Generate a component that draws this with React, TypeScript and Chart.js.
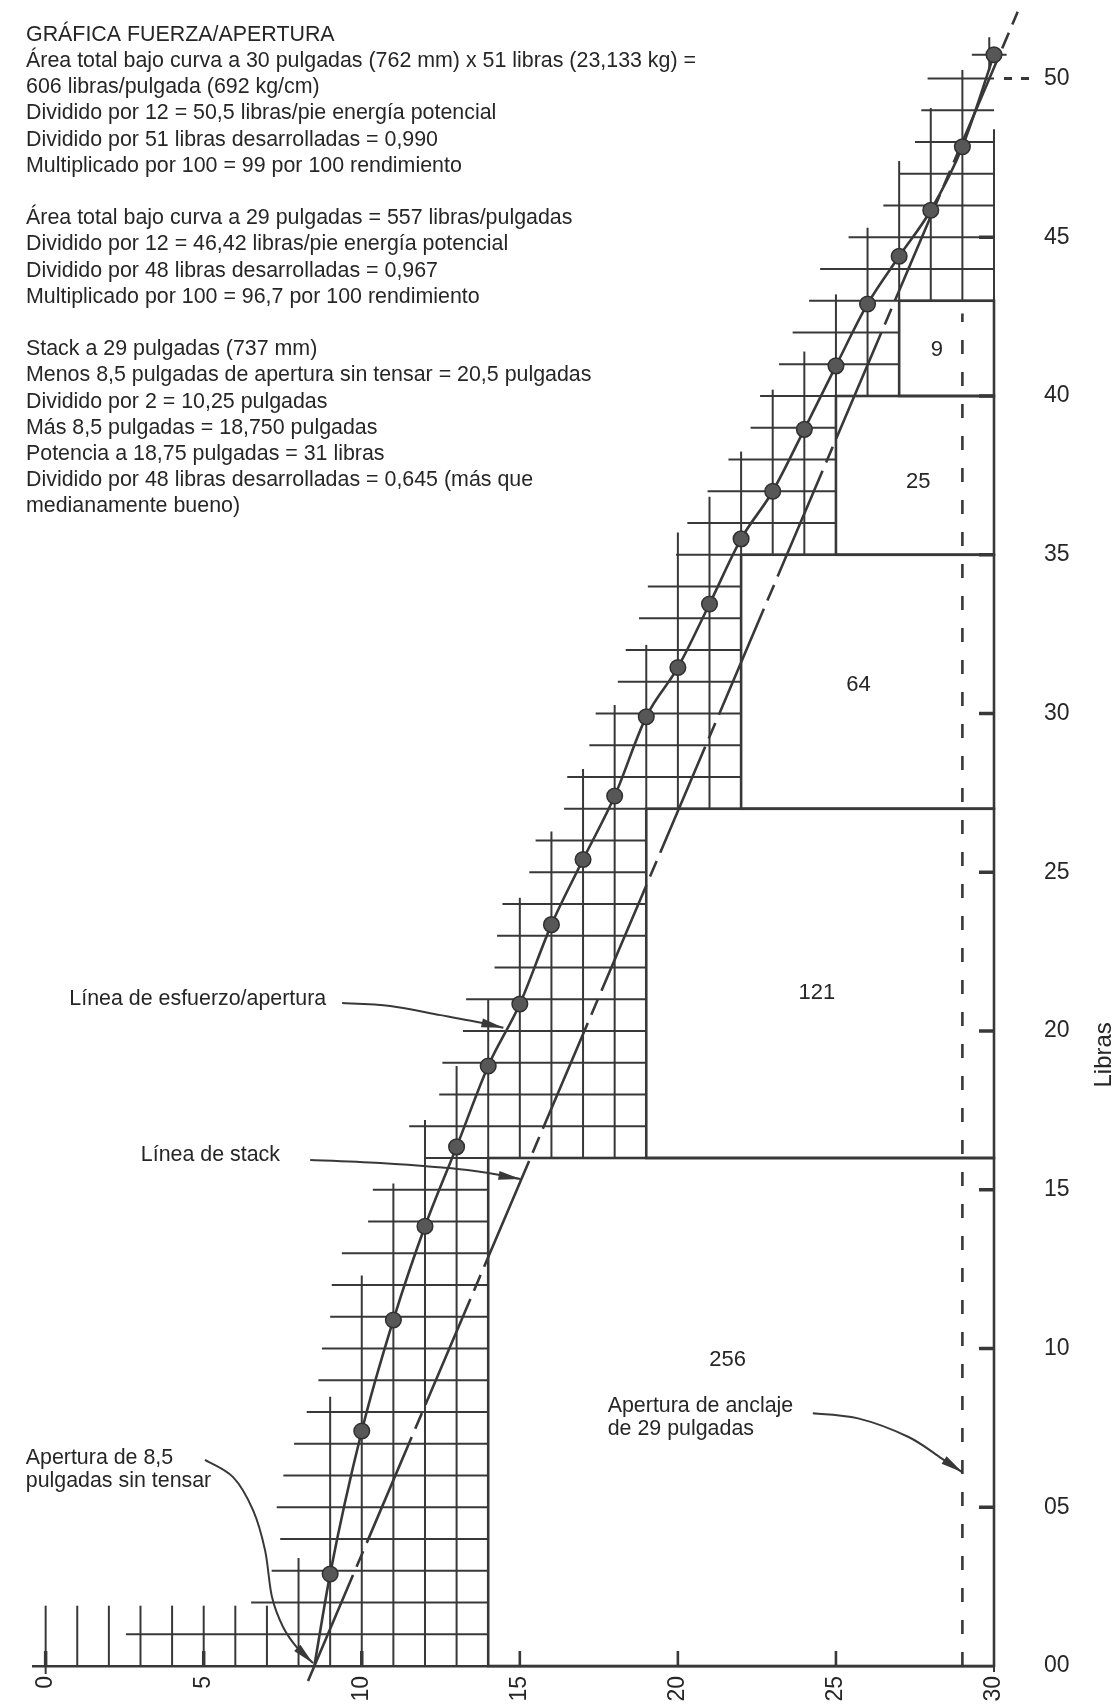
import React, { useEffect, useRef } from 'react';
import { Chart, registerables } from 'chart.js';

Chart.register(...registerables);

const FONT = "'Liberation Sans', Arial, Helvetica, sans-serif";
const INK = '#383838';
const TEXT = '#262626';

// ---- stress / draw curve (inches, pounds) ----
const CURVE_X = [8.5, 9, 10, 11, 12, 13, 14, 15, 16, 17, 18, 19, 20, 21, 22, 23, 24, 25, 26, 27, 28, 29, 30];
const CURVE_Y = [0, 2.9, 7.4, 10.9, 13.85, 16.35, 18.9, 20.85, 23.35, 25.4, 27.4, 29.9, 31.45, 33.45, 35.5, 37.0, 38.95, 40.95, 42.9, 44.4, 45.85, 47.85, 50.75];

// ---- stack line ----
const STACK_X = [8.3, 30.75];
const STACK_Y = [-0.47, 52.1];

// ---- 29 inch anchor (dashed vertical) ----
const ANCHOR_X = [29, 29];
const ANCHOR_Y = [0, 42.6];

// ---- axes ----
const X_TICKS = [0, 5, 10, 15, 20, 25, 30];
const Y_TICKS = [0, 5, 10, 15, 20, 25, 30, 35, 40, 45, 50];
const X_MIN = -0.4;
const X_MAX = 30;
const Y_MIN = 0;
const Y_MAX = 52;

// ---- big area squares ----
const BLOCK_X0 = [14, 19, 22, 25, 27];
const BLOCK_Y0 = [0, 16, 27, 35, 40];
const BLOCK_Y1 = [16, 27, 35, 40, 43];
const BLOCK_X1 = 30;
const BLOCK_LABELS = ['256', '121', '64', '25', '9'];
const BLOCK_LABEL_X = [21.57, 24.4, 25.71, 27.6, 28.19];
const BLOCK_LABEL_Y = [9.64, 21.2, 30.89, 37.3, 41.44];

// ---- unit grid: horizontal rows (y) and where each starts (x) ----
const HGRID_Y = [1, 2, 3, 4, 5, 6, 7, 8, 9, 10, 11, 12, 13, 14, 15, 16, 17, 18, 19, 20, 21, 22, 23, 24, 25, 26, 27, 28, 29, 30, 31, 32, 33, 34, 35, 36, 37, 38, 39, 40, 41, 42, 43, 44, 45, 46, 47, 48, 49, 50];
const HGRID_START = [2.54, 6.5, 7.15, 7.42, 7.31, 7.52, 7.86, 8.26, 8.63, 8.74, 9.0, 9.05, 9.37, 10.2, 10.35, 12.0, 11.5, 12.45, 12.55, 13.2, 13.3, 14.2, 14.28, 14.45, 15.3, 15.5, 16.4, 16.5, 17.2, 17.4, 18.1, 18.35, 18.77, 19.05, 19.94, 20.3, 20.94, 21.6, 22.3, 22.6, 23.2, 23.63, 24.15, 24.5, 25.4, 26.5, 27.0, 27.5, 27.7, 27.9];
// ---- unit grid: vertical columns (x) and where each ends (y) ----
const VGRID_X = [0, 1, 2, 3, 4, 5, 6, 7, 8, 9, 10, 11, 12, 13, 14, 15, 16, 17, 18, 19, 20, 21, 22, 23, 24, 25, 26, 27, 28, 29, 30];
const VGRID_TOP = [1.9, 1.9, 1.9, 1.9, 1.9, 1.9, 1.9, 1.9, 3.4, 8.48, 12.3, 15.2, 17.2, 18.9, 21.0, 24.2, 26.28, 28.25, 30.27, 32.16, 35.7, 36.83, 38.25, 40.2, 41.4, 43.2, 45.3, 47.4, 49.07, 50.27, 48.4];
// small cross marks around the last point [x0, y0, x1, y1]
const EXTRA_SEGMENTS: [number, number, number, number][] = [
  [29.3, 50.75, 30.4, 50.75],
  [29.85, 50.25, 29.85, 51.3],
];

// ---- annotation arrows (data coords) ----
const ARROW_ESFUERZO_X = [9.38, 10.9, 12.49, 13.82, 14.48];
const ARROW_ESFUERZO_Y = [20.88, 20.79, 20.5, 20.25, 20.1];
const ARROW_STACK_X = [8.37, 10.59, 13.34, 15.02];
const ARROW_STACK_Y = [15.94, 15.84, 15.62, 15.34];
const ARROW_ANCLAJE_X = [24.27, 25.7, 27.28, 28.34, 29.0];
const ARROW_ANCLAJE_Y = [7.96, 7.8, 7.22, 6.54, 6.1];
const ARROW_TENSAR_X = [5.04, 5.93, 6.56, 6.94, 7.16, 7.51, 7.96, 8.46];
const ARROW_TENSAR_Y = [6.49, 5.95, 4.91, 3.65, 2.17, 1.23, 0.57, 0.09];

const ANNOT_TEXT = ['Línea de esfuerzo/apertura', 'Línea de stack', 'Apertura de anclaje', 'de 29 pulgadas', 'Apertura de 8,5', 'pulgadas sin tensar'];
const ANNOT_X = [0.75, 3.01, 17.78, 17.78, -0.63, -0.63];
const ANNOT_Y = [21.02, 16.08, 8.2, 7.45, 6.56, 5.81];

const NOTE_LINES = [
  'GRÁFICA FUERZA/APERTURA',
  'Área total bajo curva a 30 pulgadas (762 mm) x 51 libras (23,133 kg) =',
  '606 libras/pulgada (692 kg/cm)',
  'Dividido por 12 = 50,5 libras/pie energía potencial',
  'Dividido por 51 libras desarrolladas = 0,990',
  'Multiplicado por 100 = 99 por 100 rendimiento',
  '',
  'Área total bajo curva a 29 pulgadas = 557 libras/pulgadas',
  'Dividido por 12 = 46,42 libras/pie energía potencial',
  'Dividido por 48 libras desarrolladas = 0,967',
  'Multiplicado por 100 = 96,7 por 100 rendimiento',
  '',
  'Stack a 29 pulgadas (737 mm)',
  'Menos 8,5 pulgadas de apertura sin tensar = 20,5 pulgadas',
  'Dividido por 2 = 10,25 pulgadas',
  'Más 8,5 pulgadas = 18,750 pulgadas',
  'Potencia a 18,75 pulgadas = 31 libras',
  'Dividido por 48 libras desarrolladas = 0,645 (más que',
  'medianamente bueno)',
];
const Y_TITLE = 'Libras';
const Y_TITLE_AT = 19.25;

function rowEnd(k: number): number {
  for (let i = 0; i < BLOCK_X0.length; i++) {
    if (BLOCK_Y0[i] <= k && k < BLOCK_Y1[i]) return BLOCK_X0[i];
  }
  return BLOCK_X1;
}
function colBottom(j: number): number {
  let b = 0;
  for (let i = 0; i < BLOCK_X0.length; i++) {
    if (BLOCK_X0[i] <= j) b = Math.max(b, BLOCK_Y1[i]);
  }
  return b;
}

function smoothPath(ctx: CanvasRenderingContext2D, pts: number[][]) {
  ctx.moveTo(pts[0][0], pts[0][1]);
  for (let i = 0; i < pts.length - 1; i++) {
    const p0 = pts[Math.max(0, i - 1)];
    const p1 = pts[i];
    const p2 = pts[i + 1];
    const p3 = pts[Math.min(pts.length - 1, i + 2)];
    ctx.bezierCurveTo(
      p1[0] + (p2[0] - p0[0]) / 6, p1[1] + (p2[1] - p0[1]) / 6,
      p2[0] - (p3[0] - p1[0]) / 6, p2[1] - (p3[1] - p1[1]) / 6,
      p2[0], p2[1]
    );
  }
}

const resetPadding = (s: any) => {
  s.paddingTop = 0;
  s.paddingBottom = 0;
  s.paddingLeft = 0;
  s.paddingRight = 0;
};

const decorPlugin = {
  id: 'decor',
  beforeDatasetsDraw(chart: any) {
    const ctx: CanvasRenderingContext2D = chart.ctx;
    const xs = chart.scales.x;
    const ys = chart.scales.y;
    const px = (v: number) => xs.getPixelForValue(v);
    const py = (v: number) => ys.getPixelForValue(v);
    ctx.save();
    ctx.strokeStyle = INK;
    ctx.lineCap = 'butt';
    ctx.lineWidth = 2;
    const seg = (x0: number, y0: number, x1: number, y1: number) => {
      ctx.beginPath();
      ctx.moveTo(x0, y0);
      ctx.lineTo(x1, y1);
      ctx.stroke();
    };
    HGRID_Y.forEach((k, i) => {
      seg(px(HGRID_START[i]), py(k), px(rowEnd(k)), py(k));
    });
    VGRID_X.forEach((j, i) => {
      seg(px(j), py(colBottom(j)), px(j), py(VGRID_TOP[i]));
    });
    EXTRA_SEGMENTS.forEach((s) => seg(px(s[0]), py(s[1]), px(s[2]), py(s[3])));
    // area squares
    ctx.lineWidth = 2.6;
    BLOCK_X0.forEach((x0, i) => {
      const l = px(x0), r = px(BLOCK_X1), t = py(BLOCK_Y1[i]), b = py(BLOCK_Y0[i]);
      ctx.strokeRect(l, t, r - l, b - t);
    });
    // tick marks (inward)
    const base = py(0);
    X_TICKS.forEach((v) => {
      if (v >= 30) return;
      ctx.lineWidth = v <= 10 ? 3.5 : 2.6;
      seg(px(v), base, px(v), base - 15);
    });
    ctx.lineWidth = 2;
    seg(px(0), base, px(0), base + 8);
    seg(px(30), base, px(30), base + 6);
    const right = px(30);
    Y_TICKS.forEach((v) => {
      if (v === 0) return;
      if (v === 50) {
        ctx.lineWidth = 3;
        seg(right + 10, py(v), right + 18, py(v));
        seg(right + 27, py(v), right + 35, py(v));
        return;
      }
      ctx.lineWidth = 3.5;
      seg(right - 15, py(v), right, py(v));
    });
    ctx.restore();
  },
  afterDatasetsDraw(chart: any) {
    const ctx: CanvasRenderingContext2D = chart.ctx;
    const xs = chart.scales.x;
    const ys = chart.scales.y;
    const px = (v: number) => xs.getPixelForValue(v);
    const py = (v: number) => ys.getPixelForValue(v);
    ctx.save();
    // arrows
    const arrows = [
      [ARROW_ESFUERZO_X, ARROW_ESFUERZO_Y],
      [ARROW_STACK_X, ARROW_STACK_Y],
      [ARROW_ANCLAJE_X, ARROW_ANCLAJE_Y],
      [ARROW_TENSAR_X, ARROW_TENSAR_Y],
    ];
    ctx.strokeStyle = INK;
    ctx.fillStyle = INK;
    ctx.lineWidth = 2;
    arrows.forEach(([ax, ay]) => {
      const pts = ax.map((x, i) => [px(x), py(ay[i])]);
      ctx.beginPath();
      smoothPath(ctx, pts);
      ctx.stroke();
      const n = pts.length;
      const [tx, ty] = pts[n - 1];
      const [bx, by] = pts[n - 2];
      const a = Math.atan2(ty - by, tx - bx);
      const L = 22, W = 4.5;
      const c = Math.cos(a), s = Math.sin(a);
      ctx.beginPath();
      ctx.moveTo(tx, ty);
      ctx.lineTo(tx - L * c + W * s, ty - L * s - W * c);
      ctx.lineTo(tx - L * c - W * s, ty - L * s + W * c);
      ctx.closePath();
      ctx.fill();
    });
    // annotation texts
    ctx.fillStyle = TEXT;
    ctx.textBaseline = 'middle';
    ctx.textAlign = 'left';
    ctx.font = `21.4px ${FONT}`;
    ANNOT_TEXT.forEach((t, i) => ctx.fillText(t, px(ANNOT_X[i]), py(ANNOT_Y[i])));
    // block labels
    ctx.textAlign = 'center';
    ctx.font = `22px ${FONT}`;
    BLOCK_LABELS.forEach((t, i) => ctx.fillText(t, px(BLOCK_LABEL_X[i]), py(BLOCK_LABEL_Y[i])));
    // notes block
    ctx.textAlign = 'left';
    ctx.font = `21.4px ${FONT}`;
    NOTE_LINES.forEach((t, i) => {
      if (t) ctx.fillText(t, 26, 35 + 26.2 * i);
    });
    // y title, reading upward
    ctx.save();
    ctx.translate(px(30) + 110, py(Y_TITLE_AT));
    ctx.rotate(-Math.PI / 2);
    ctx.textAlign = 'center';
    ctx.font = `24px ${FONT}`;
    ctx.fillText(Y_TITLE, 0, 0);
    ctx.restore();
    ctx.restore();
  },
};

export default function App() {
  const canvasRef = useRef<HTMLCanvasElement | null>(null);

  useEffect(() => {
    if (!canvasRef.current) return;
    Chart.defaults.font.family = FONT;
    const chart = new Chart(canvasRef.current, {
      type: 'scatter',
      data: {
        datasets: [
          {
            label: 'Línea de esfuerzo/apertura',
            data: CURVE_X.map((x, i) => ({ x, y: CURVE_Y[i] })),
            showLine: true,
            borderColor: INK,
            borderWidth: 2.6,
            cubicInterpolationMode: 'monotone',
            pointRadius: CURVE_Y.map((y) => (y === 0 ? 0 : 7.8)),
            pointBackgroundColor: '#575757',
            pointBorderColor: '#303030',
            pointBorderWidth: 1.5,
            clip: false,
          } as any,
          {
            label: 'Línea de stack',
            data: STACK_X.map((x, i) => ({ x, y: STACK_Y[i] })),
            showLine: true,
            borderColor: INK,
            borderWidth: 2.6,
            borderDash: [115, 9, 17, 9],
            pointRadius: 0,
            clip: false,
          } as any,
          {
            label: 'Apertura de anclaje',
            data: ANCHOR_X.map((x, i) => ({ x, y: ANCHOR_Y[i] })),
            showLine: true,
            borderColor: INK,
            borderWidth: 2.6,
            borderDash: [14, 18],
            pointRadius: 0,
            clip: false,
          } as any,
        ],
      },
      options: {
        animation: false,
        responsive: true,
        maintainAspectRatio: false,
        devicePixelRatio: 1,
        events: [],
        layout: { padding: { left: 33, top: 15, right: 0, bottom: 0 } },
        plugins: {
          legend: { display: false },
          tooltip: { enabled: false },
          title: { display: false },
        },
        scales: {
          x: {
            type: 'linear',
            position: 'bottom',
            min: X_MIN,
            max: X_MAX,
            afterBuildTicks: (s: any) => {
              s.ticks = X_TICKS.map((v) => ({ value: v }));
            },
            afterFit: (s: any) => {
              s.height = 40;
              resetPadding(s);
            },
            grid: { display: false, drawTicks: false },
            border: { display: true, color: INK, width: 2.6 },
            ticks: {
              autoSkip: false,
              minRotation: 90,
              maxRotation: 90,
              padding: 10,
              color: TEXT,
              font: { size: 23, family: FONT },
              callback: (v: any) => String(v),
            },
          },
          y: {
            type: 'linear',
            position: 'right',
            min: Y_MIN,
            max: Y_MAX,
            afterBuildTicks: (s: any) => {
              s.ticks = Y_TICKS.map((v) => ({ value: v }));
            },
            afterFit: (s: any) => {
              s.width = 121;
              resetPadding(s);
            },
            grid: { display: false, drawTicks: false },
            border: { display: false },
            ticks: {
              padding: 50,
              color: TEXT,
              font: { size: 23, family: FONT },
              callback: (v: any) => (Number(v) < 10 ? '0' + v : String(v)),
            },
          },
        },
      } as any,
      plugins: [decorPlugin],
    });
    return () => chart.destroy();
  }, []);

  return (
    <div style={{ position: 'absolute', left: 0, top: 0, width: 1115, height: 1706, background: '#ffffff' }}>
      <canvas ref={canvasRef} />
    </div>
  );
}
